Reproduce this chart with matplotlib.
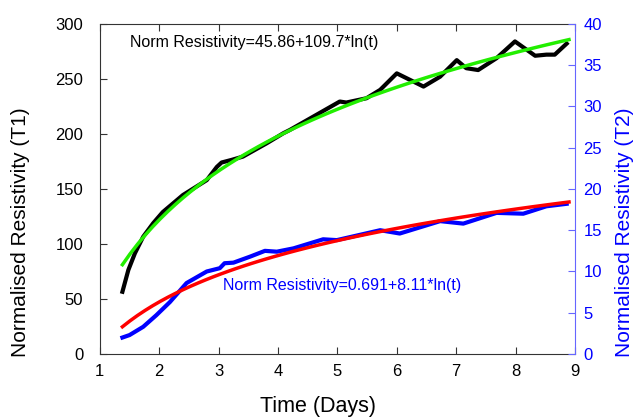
import numpy as np
import matplotlib
matplotlib.use("Agg")
import matplotlib.pyplot as plt

plt.rcParams['font.family'] = ['Liberation Sans', 'DejaVu Sans']

# T1 measured (left axis)
t1_days = [1.38, 1.48, 1.59, 1.73, 1.9, 2.06, 2.4, 2.8, 2.97, 3.05, 3.22, 3.41, 3.81,
           4.09, 4.2, 5.04, 5.15, 5.49, 5.72, 6.0, 6.45, 6.73, 7.01, 7.17, 7.37,
           7.68, 7.99, 8.33, 8.52, 8.66, 8.86]
t1_res = [56.6, 76.4, 91.5, 106.6, 119, 129, 144.5, 158, 170, 174, 176.4, 179.4, 191.5,
          200.6, 203.6, 229.4, 228.5, 232.4, 240, 255, 243, 252, 267, 259.7, 258,
          268.8, 284, 271, 272, 272, 282]

# T2 measured (right axis)
t2_days = [1.38, 1.5, 1.73, 1.95, 2.18, 2.46, 2.8, 3.02, 3.1, 3.25, 3.53, 3.78, 3.98,
           4.26, 4.76, 4.99, 5.72, 6.05, 6.73, 7.12, 7.68, 8.13, 8.52, 8.86]
t2_res = [2.0, 2.3, 3.3, 4.7, 6.3, 8.6, 10.0, 10.4, 11.0, 11.07, 11.8, 12.5, 12.4,
          12.8, 13.9, 13.8, 15.0, 14.6, 16.1, 15.8, 17.1, 17.0, 17.9, 18.2]

# log fits shown on the chart
fit1 = (45.86, 109.7)
fit2 = (0.691, 8.11)
fit_days = np.linspace(1.38, 8.9, 60)

fig = plt.figure(figsize=(6.36, 4.18), dpi=100)
ax = fig.add_axes([0.157, 0.153, 0.747, 0.79])
ax2 = ax.twinx()

ax.plot(t1_days, t1_res, color='black', lw=3, solid_joinstyle='round')
ax.plot(fit_days, fit1[0] + fit1[1] * np.log(fit_days), color='#22ee00', lw=2.5)
ax2.plot(t2_days, t2_res, color='#0000ff', lw=3, solid_joinstyle='round')
ax2.plot(fit_days, fit2[0] + fit2[1] * np.log(fit_days), color='#ff0000', lw=2.5)

ax.set_xlim(1, 9)
ax.set_ylim(0, 300)
ax2.set_ylim(0, 40)
ax.set_xticks(range(1, 10))
ax.set_yticks(range(0, 301, 50))
ax2.set_yticks(range(0, 41, 5))

ax.tick_params(axis='x', direction='in', top=True, length=5, labelsize=12, pad=7, color='#333333')
ax.tick_params(axis='y', direction='in', length=5, labelsize=12, pad=12, color='#333333')
ax2.tick_params(axis='y', direction='in', length=5, labelsize=12, pad=6,
                colors='#0000ff', color='#6666ff')

for s in ['left', 'bottom', 'top']:
    ax.spines[s].set_color('#333333')
for s in ['left', 'bottom', 'top']:
    ax2.spines[s].set_visible(False)
ax.spines['right'].set_visible(False)
ax2.spines['right'].set_color('#6666ff')

ax.set_xlabel('Time (Days)', fontsize=15.5, va='center')
ax.set_ylabel('Normalised Resistivity (T1)', fontsize=15, va='center')
ax2.set_ylabel('Normalised Resistivity (T2)', fontsize=15, color='#0000ff', va='center')
ax.xaxis.set_label_coords(0.459, -0.158)
ax.yaxis.set_label_coords(-0.166, 0.37)
ax2.yaxis.set_label_coords(1.105, 0.37)

ax.text(1.5, 283, 'Norm Resistivity=45.86+109.7*ln(t)', fontsize=11.5, color='black', va='center')
ax.text(3.08, 62, 'Norm Resistivity=0.691+8.11*ln(t)', fontsize=11.5, color='#0000ff', va='center')

fig.savefig('out.png', dpi=100)
